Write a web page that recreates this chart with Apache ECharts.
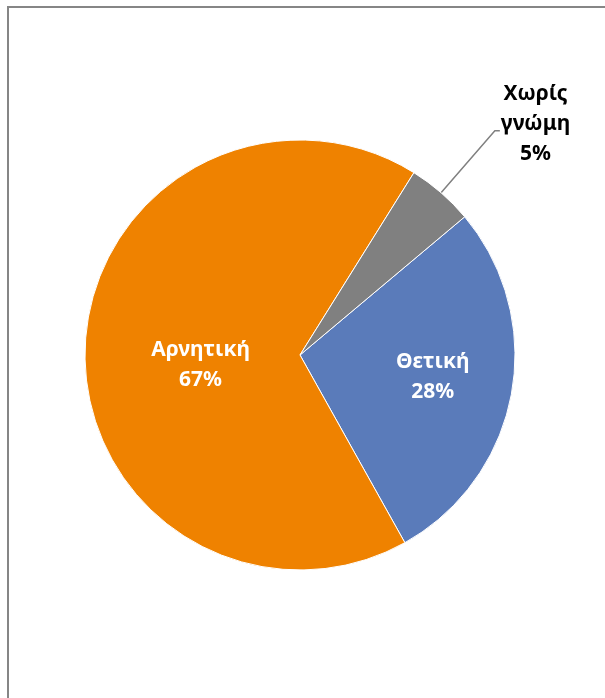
<!DOCTYPE html>
<html>
<head>
<meta charset="utf-8">
<script src="https://cdn.jsdelivr.net/npm/echarts@6/dist/echarts.min.js"></script>
<style>
  html, body { margin: 0; padding: 0; background: #fff; }
  #chart { width: 605px; height: 698px; }
</style>
</head>
<body>
<div id="chart"></div>
<script>
const categories = ["Θετική", "Αρνητική", "Χωρίς γνώμη"];
const values = [28, 67, 5];
const colors = ["#5A7BBA", "#EF8200", "#808080"];

// shift of the inside labels, Excel puts them a bit further out than echarts
const labelShift = [[24, 2], [11, 13], [0, 0]];

const chart = echarts.init(document.getElementById("chart"));

chart.setOption({
  animation: false,
  graphic: [
    {
      type: "rect",
      shape: { x: 8, y: 7, width: 700, height: 800 },
      style: { fill: "none", stroke: "#868686", lineWidth: 2 },
      silent: true,
    },
  ],
  series: [
    {
      type: "pie",
      center: [300, 355],
      radius: 215,
      startAngle: 40,
      clockwise: true,
      itemStyle: { borderColor: "#fff", borderWidth: 1 },
      label: {
        position: "inside",
        color: "#fff",
        fontFamily: "Noto Sans",
        fontWeight: "bold",
        fontSize: 21,
        lineHeight: 30,
        formatter: "{b}\n{c}%",
      },
      labelLayout: (p) => ({
        dx: labelShift[p.dataIndex][0],
        dy: labelShift[p.dataIndex][1],
      }),
      data: categories.map((name, i) => {
        const item = { name: name, value: values[i], itemStyle: { color: colors[i] } };
        if (i === 2) {
          item.label = {
            position: "outside",
            color: "#000",
            distanceToLabelLine: 1,
            padding: [0, 0, 14, 0],
            formatter: "{t|Χωρίς}\n{t|γνώμη}\n{t|" + values[i] + "%}",
            rich: {
              t: {
                align: "center",
                color: "#000",
                fontFamily: "Noto Sans",
                fontWeight: "bold",
                fontSize: 21,
                lineHeight: 30,
              },
            },
          };
          item.labelLine = {
            show: true,
            length: 82,
            length2: 5,
            lineStyle: { color: "#808080", width: 1.5 },
          };
        }
        return item;
      }),
    },
  ],
});
</script>
</body>
</html>
